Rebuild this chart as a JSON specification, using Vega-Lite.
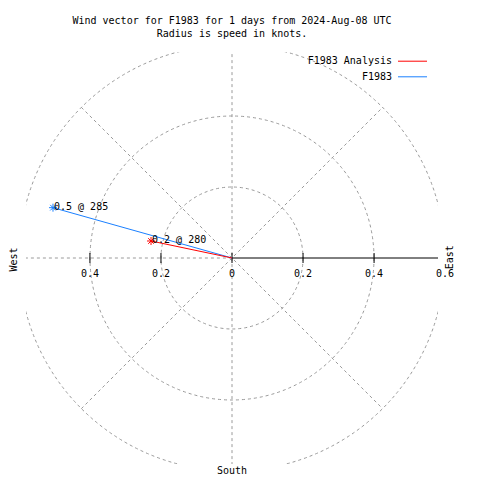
{
  "$schema": "https://vega.github.io/schema/vega-lite/v6.json",
  "width": 412,
  "height": 412,
  "autosize": "none",
  "padding": {"left": 26, "top": 52, "right": 42, "bottom": 16},
  "background": "white",
  "title": {
    "text": "Wind vector for F1983 for 1 days from 2024-Aug-08 UTC",
    "subtitle": "Radius is speed in knots.",
    "anchor": "middle",
    "frame": "group",
    "font": "DejaVu Sans Mono",
    "fontSize": 10,
    "fontWeight": "normal",
    "color": "black",
    "subtitleFont": "DejaVu Sans Mono",
    "subtitleFontSize": 10,
    "subtitleColor": "black",
    "subtitlePadding": 3,
    "offset": 13
  },
  "datasets": {
    "rings": [{"r": 0.2}, {"r": 0.4}, {"r": 0.6}],
    "spokes": [
      {"x1": 0, "y1": -0.6, "x2": 0, "y2": 0.6},
      {"x1": -0.4243, "y1": -0.4243, "x2": 0.4243, "y2": 0.4243},
      {"x1": -0.4243, "y1": 0.4243, "x2": 0.4243, "y2": -0.4243},
      {"x1": -0.6, "y1": 0, "x2": 0, "y2": 0}
    ],
    "axisline": [{"x1": 0, "y1": 0, "x2": 0.58, "y2": 0}],
    "ticks": [{"v": -0.4}, {"v": -0.2}, {"v": 0}, {"v": 0.2}, {"v": 0.4}],
    "ticklabels": [
      {"v": -0.4, "lab": "0.4"},
      {"v": -0.2, "lab": "0.2"},
      {"v": 0, "lab": "0"},
      {"v": 0.2, "lab": "0.2"},
      {"v": 0.4, "lab": "0.4"},
      {"v": 0.6, "lab": "0.6"}
    ],
    "winds": [
      {"series": "F1983", "u": -0.504, "v": 0.1417, "label": "0.5 @ 285"},
      {"series": "F1983 Analysis", "u": -0.228, "v": 0.0479, "label": "0.2 @ 280"}
    ],
    "compass": [
      {"name": "West", "x": -0.614, "y": -0.004},
      {"name": "East", "x": 0.614, "y": 0.002},
      {"name": "South", "x": 0, "y": -0.599}
    ]
  },
  "layer": [
    {
      "data": {"name": "rings"},
      "mark": {"type": "point", "shape": "circle", "filled": false, "stroke": "#9a9a9a", "strokeWidth": 1, "strokeDash": [3, 3], "clip": true, "opacity": 1},
      "encoding": {
        "x": {"datum": 0, "type": "quantitative", "scale": {"domain": [-0.58, 0.58], "nice": false, "zero": false}, "axis": null},
        "y": {"datum": 0, "type": "quantitative", "scale": {"domain": [-0.58, 0.58], "nice": false, "zero": false}, "axis": null},
        "size": {"field": "r", "type": "quantitative", "scale": {"type": "pow", "exponent": 2, "domain": [0, 0.6], "range": [0, 181476]}, "legend": null}
      }
    },
    {
      "data": {"name": "spokes"},
      "mark": {"type": "rule", "stroke": "#9a9a9a", "strokeWidth": 1, "strokeDash": [3, 3], "clip": true},
      "encoding": {
        "x": {"field": "x1", "type": "quantitative", "axis": null},
        "y": {"field": "y1", "type": "quantitative", "axis": null},
        "x2": {"field": "x2"},
        "y2": {"field": "y2"}
      }
    },
    {
      "data": {"name": "axisline"},
      "mark": {"type": "rule", "stroke": "black", "strokeWidth": 1},
      "encoding": {
        "x": {"field": "x1", "type": "quantitative", "axis": null},
        "y": {"field": "y1", "type": "quantitative", "axis": null},
        "x2": {"field": "x2"},
        "y2": {"field": "y2"}
      }
    },
    {
      "data": {"name": "ticks"},
      "mark": {"type": "tick", "orient": "vertical", "color": "black", "size": 10, "thickness": 1, "opacity": 1},
      "encoding": {
        "x": {"field": "v", "type": "quantitative", "axis": null},
        "y": {"datum": 0, "type": "quantitative", "axis": null}
      }
    },
    {
      "data": {"name": "ticklabels"},
      "mark": {"type": "text", "align": "center", "baseline": "middle", "dy": 16, "font": "DejaVu Sans Mono", "fontSize": 10, "color": "black"},
      "encoding": {
        "x": {"field": "v", "type": "quantitative", "axis": null},
        "y": {"datum": 0, "type": "quantitative", "axis": null},
        "text": {"field": "lab"}
      }
    },
    {
      "data": {"name": "winds"},
      "mark": {"type": "rule", "strokeWidth": 1},
      "encoding": {
        "x": {"field": "u", "type": "quantitative", "axis": null},
        "y": {"field": "v", "type": "quantitative", "axis": null},
        "x2": {"datum": 0},
        "y2": {"datum": 0},
        "color": {
          "field": "series", "type": "nominal",
          "scale": {"domain": ["F1983 Analysis", "F1983"], "range": ["#ff0000", "#1a80ff"]},
          "legend": {
            "title": null,
            "orient": "none",
            "legendX": 381,
            "legendY": 3.7,
            "padding": 0,
            "symbolType": "M-2.9,0H2.9",
            "symbolSize": 100,
            "symbolStrokeWidth": 1,
            "symbolFillColor": "transparent",
            "labelAlign": "right",
            "labelOffset": -26,
            "labelFont": "DejaVu Sans Mono",
            "labelFontSize": 10,
            "labelColor": "black",
            "rowPadding": 4.6
          }
        }
      }
    },
    {
      "data": {"name": "winds"},
      "mark": {"type": "point", "shape": "M-1,0L1,0M0,-1L0,1M-0.7,-0.7L0.7,0.7M-0.7,0.7L0.7,-0.7", "filled": false, "size": 64, "strokeWidth": 1, "opacity": 1},
      "encoding": {
        "x": {"field": "u", "type": "quantitative", "axis": null},
        "y": {"field": "v", "type": "quantitative", "axis": null},
        "color": {"field": "series", "type": "nominal", "legend": null}
      }
    },
    {
      "data": {"name": "winds"},
      "mark": {"type": "text", "align": "left", "baseline": "middle", "dx": 1, "dy": -1, "font": "DejaVu Sans Mono", "fontSize": 10, "color": "black"},
      "encoding": {
        "x": {"field": "u", "type": "quantitative", "axis": null},
        "y": {"field": "v", "type": "quantitative", "axis": null},
        "text": {"field": "label"}
      }
    },
    {
      "data": {"name": "compass"},
      "transform": [{"filter": "datum.name != 'South'"}],
      "mark": {"type": "text", "align": "center", "baseline": "middle", "angle": 270, "font": "DejaVu Sans Mono", "fontSize": 10, "color": "black"},
      "encoding": {
        "x": {"field": "x", "type": "quantitative", "axis": null},
        "y": {"field": "y", "type": "quantitative", "axis": null},
        "text": {"field": "name"}
      }
    },
    {
      "data": {"name": "compass"},
      "transform": [{"filter": "datum.name == 'South'"}],
      "mark": {"type": "text", "align": "center", "baseline": "middle", "font": "DejaVu Sans Mono", "fontSize": 10, "color": "black"},
      "encoding": {
        "x": {"field": "x", "type": "quantitative", "axis": null},
        "y": {"field": "y", "type": "quantitative", "axis": null},
        "text": {"field": "name"}
      }
    }
  ],
  "config": {"view": {"stroke": null}}
}
